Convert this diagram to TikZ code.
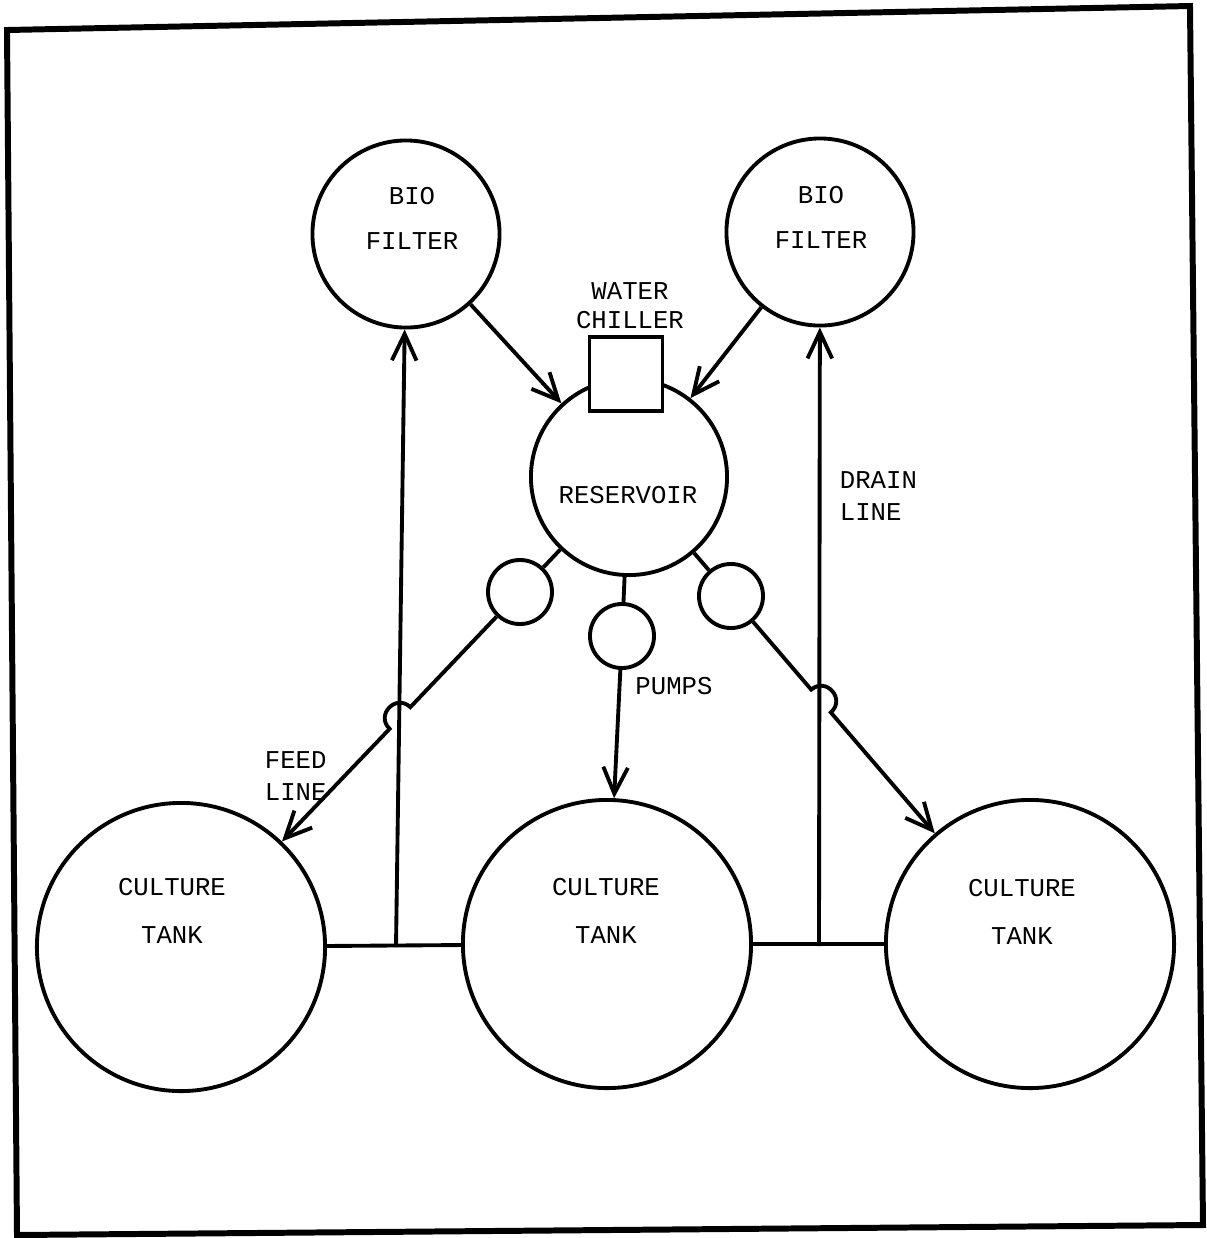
\documentclass[tikz,border=0pt]{standalone}
\usepackage{fontspec}
\setmainfont{Liberation Mono}
\usetikzlibrary{arrows.meta, calc}

\begin{document}
\begin{tikzpicture}[x=0.01cm, y=-0.01cm, line width=1.1pt,
  tank/.style={draw, circle, inner sep=0pt, minimum size=2.88cm},
  filter/.style={draw, circle, inner sep=0pt, minimum size=1.87cm},
  pump/.style={draw, circle, inner sep=0pt, minimum size=0.64cm},
  lbl/.style={font=\fontsize{7.3}{#1}\selectfont, align=center, inner sep=0pt},
  lbl/.default=13.6,
  flow/.style={-{Straight Barb[length=7.5pt, width=7pt]}}]
  \useasboundingbox (0,0) rectangle (1207,1238);

  % Frame
  \draw[line width=1.7pt] (7,30) -- (1190,6) -- (1203,1225) -- (17,1235) -- cycle;

  % Bio filters
  \node[filter] (bioL) at (406,234) {};
  \node[filter] (bioR) at (820,232) {};
  \node[lbl=12.8] (bioLtxt) at (412,218) {BIO\\FILTER};
  \node[lbl=12.8] (bioRtxt) at (821,217) {BIO\\FILTER};

  % Reservoir and water chiller
  \node[draw, circle, inner sep=0pt, minimum size=1.96cm] (res) at (629,477) {};
  \node[draw, fill=white, inner sep=0pt, minimum width=0.73cm, minimum height=0.74cm] (chiller) at (626,374) {};
  \node[lbl=8.2] (chilltxt) at (630,306) {WATER\\CHILLER};
  \node[lbl] (restxt) at (628,495) {RESERVOIR};

  % Pumps
  \node[pump] (pumpL) at (520,592) {};
  \node[pump] (pumpM) at (622,636) {};
  \node[pump] (pumpR) at (731,596) {};
  \node[lbl] (pumptxt) at (674,686) {PUMPS};
  \draw (res) -- (pumpL);
  \draw (res) -- (pumpM);
  \draw (res) -- (pumpR);

  % Culture tanks
  \node[tank] (tankL) at (181,947) {};
  \node[tank] (tankM) at (607,944) {};
  \node[tank] (tankR) at (1030,944) {};
  \node[lbl] (tankLtxt) at (172,911) {CULTURE\\TANK};
  \node[lbl] (tankMtxt) at (606,911) {CULTURE\\TANK};
  \node[lbl] (tankRtxt) at (1022,912) {CULTURE\\TANK};
  \draw (tankL) -- (tankM);
  \draw (tankM) -- (tankR);

  % Drain lines
  \coordinate (drainL) at (396,947);
  \coordinate (drainR) at (819,946);
  \draw[flow] (drainL) -- (bioL);
  \draw[flow] (drainR) -- (bioR);
  \node[lbl=9.1, align=left, anchor=west] (draintxt) at (838,496) {DRAIN\\LINE};

  % Filters back to reservoir
  \draw[flow] (bioL) -- (res);
  \draw[flow] (bioR) -- (res);

  % Feed lines, hopping over the drain lines
  \coordinate (xL) at (400,718);
  \coordinate (xR) at (821,701);
  \coordinate (hLa) at ($(xL)!0.15cm!(pumpL)$);
  \coordinate (hLb) at ($(xL)!0.15cm!(tankL)$);
  \coordinate (hRa) at ($(xR)!0.15cm!(pumpR)$);
  \coordinate (hRb) at ($(xR)!0.15cm!(tankR)$);
  \draw[flow] (pumpL) -- (hLa)
    .. controls ($(hLa)!0.667!-90:(hLb)$) and ($(hLb)!0.667!90:(hLa)$) .. (hLb)
    -- (tankL);
  \draw[flow] (pumpR) -- (hRa)
    .. controls ($(hRa)!0.667!90:(hRb)$) and ($(hRb)!0.667!-90:(hRa)$) .. (hRb)
    -- (tankR);
  \draw[flow] (pumpM) -- (tankM);
  \node[lbl=9.1, align=left, anchor=west] (feedtxt) at (263,776) {FEED\\LINE};
\end{tikzpicture}
\end{document}
